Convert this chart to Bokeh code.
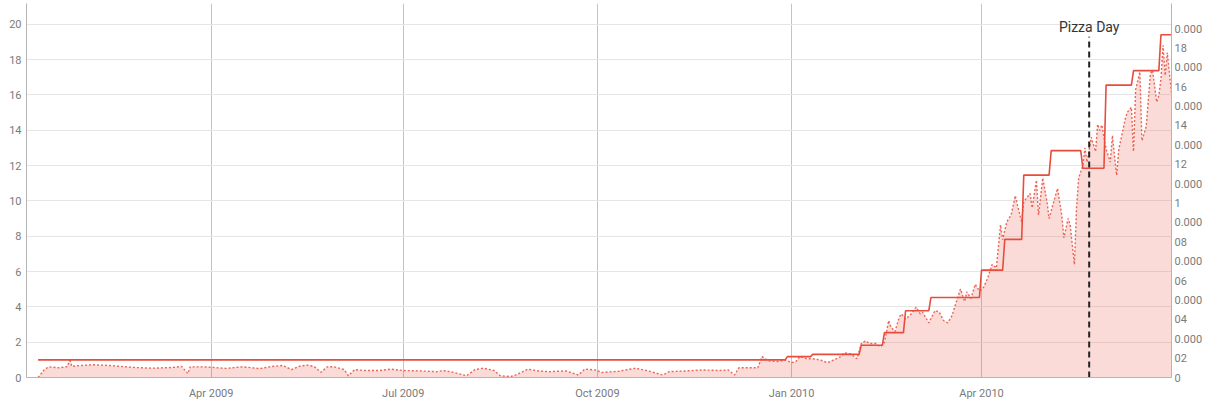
import pandas as pd
from bokeh.plotting import figure
from bokeh.models import Range1d, LinearAxis, FixedTicker, DatetimeTickFormatter, Label
from bokeh.embed import file_html
from bokeh.resources import INLINE

# ---- data ----
# difficulty (left axis): start date of each period and its value
diff_start = ["2009-01-09", "2009-12-30", "2010-01-11", "2010-02-03", "2010-02-14",
              "2010-02-24", "2010-03-08", "2010-04-01", "2010-04-12", "2010-04-21",
              "2010-05-04", "2010-05-19", "2010-05-30", "2010-06-12", "2010-06-25"]
diff_value = [1.0, 1.18, 1.31, 1.83, 2.54, 3.78, 4.53, 6.08, 7.82, 11.46,
              12.85, 11.85, 16.56, 17.38, 19.41]
diff_end = "2010-06-30"

# estimated hashrate (right axis, units of 1e-5)
hash_dates = [
    "2009-01-09", "2009-01-12", "2009-01-14", "2009-01-19", "2009-01-23", "2009-01-24",
    "2009-01-25", "2009-01-28", "2009-02-04", "2009-02-13", "2009-02-23", "2009-03-04",
    "2009-03-14", "2009-03-18", "2009-03-21", "2009-03-22", "2009-03-29", "2009-04-08",
    "2009-04-16", "2009-04-24", "2009-04-30", "2009-05-05", "2009-05-09", "2009-05-13",
    "2009-05-17", "2009-05-20", "2009-05-23", "2009-05-26", "2009-05-29", "2009-06-03",
    "2009-06-05", "2009-06-08", "2009-06-12", "2009-06-20", "2009-06-25", "2009-07-01",
    "2009-07-09", "2009-07-17", "2009-07-20", "2009-07-25", "2009-07-29", "2009-07-31",
    "2009-08-04", "2009-08-08", "2009-08-13", "2009-08-16", "2009-08-21", "2009-08-24",
    "2009-08-29", "2009-09-03", "2009-09-08", "2009-09-16", "2009-09-22", "2009-09-25",
    "2009-09-30", "2009-10-03", "2009-10-11", "2009-10-19", "2009-10-25", "2009-11-01",
    "2009-11-04", "2009-11-12", "2009-11-20", "2009-11-28", "2009-12-02", "2009-12-05",
    "2009-12-07", "2009-12-12", "2009-12-16", "2009-12-18", "2009-12-21", "2009-12-26",
    "2009-12-29", "2010-01-01", "2010-01-03", "2010-01-05", "2010-01-08", "2010-01-11",
    "2010-01-15", "2010-01-18", "2010-01-21", "2010-01-24", "2010-01-26", "2010-01-29",
    "2010-02-01", "2010-02-03", "2010-02-05", "2010-02-07", "2010-02-10", "2010-02-12",
    "2010-02-14", "2010-02-16", "2010-02-17", "2010-02-19", "2010-02-21", "2010-02-22",
    "2010-02-24", "2010-02-26", "2010-03-01", "2010-03-03", "2010-03-04", "2010-03-07",
    "2010-03-10", "2010-03-12", "2010-03-14", "2010-03-16", "2010-03-18", "2010-03-20",
    "2010-03-22", "2010-03-24", "2010-03-25", "2010-03-27", "2010-03-29", "2010-03-31",
    "2010-04-02", "2010-04-04", "2010-04-06", "2010-04-08", "2010-04-10", "2010-04-11",
    "2010-04-13", "2010-04-15", "2010-04-17", "2010-04-18", "2010-04-20", "2010-04-21",
    "2010-04-24", "2010-04-25", "2010-04-27", "2010-04-28", "2010-04-30", "2010-05-02",
    "2010-05-03", "2010-05-06", "2010-05-07", "2010-05-09", "2010-05-10", "2010-05-12",
    "2010-05-13", "2010-05-15", "2010-05-16", "2010-05-17", "2010-05-19", "2010-05-20",
    "2010-05-21", "2010-05-23", "2010-05-25", "2010-05-26", "2010-05-27", "2010-05-28",
    "2010-05-30", "2010-06-01", "2010-06-02", "2010-06-04", "2010-06-05", "2010-06-08",
    "2010-06-09", "2010-06-11", "2010-06-12", "2010-06-13", "2010-06-15", "2010-06-16",
    "2010-06-18", "2010-06-20", "2010-06-21", "2010-06-23", "2010-06-24", "2010-06-25",
    "2010-06-26", "2010-06-27", "2010-06-28", "2010-06-30"]
hash_value = [
    0.00, 0.41, 0.55, 0.50, 0.57, 0.98,
    0.57, 0.61, 0.66, 0.61, 0.52, 0.48,
    0.52, 0.57, 0.20, 0.55, 0.55, 0.47,
    0.55, 0.46, 0.57, 0.62, 0.41, 0.59,
    0.64, 0.55, 0.27, 0.55, 0.56, 0.41,
    0.09, 0.41, 0.36, 0.36, 0.43, 0.36,
    0.34, 0.30, 0.36, 0.26, 0.15, 0.09,
    0.41, 0.48, 0.36, 0.09, 0.05, 0.16,
    0.43, 0.34, 0.30, 0.34, 0.13, 0.43,
    0.39, 0.26, 0.32, 0.48, 0.34, 0.13,
    0.30, 0.34, 0.39, 0.36, 0.39, 0.13,
    0.50, 0.50, 0.50, 1.08, 0.86, 0.82,
    0.91, 0.77, 0.82, 1.09, 0.97, 0.97,
    0.89, 0.76, 0.91, 1.06, 1.28, 1.21,
    0.97, 1.75, 1.89, 1.75, 1.75, 1.58,
    1.82, 2.94, 2.61, 2.37, 3.11, 3.28,
    3.02, 3.19, 3.63, 3.28, 3.37, 2.82,
    3.46, 3.37, 2.94, 2.82, 3.19, 3.88,
    4.56, 3.92, 4.42, 4.08, 4.81, 4.46,
    4.65, 5.16, 5.83, 5.65, 7.87, 7.11,
    8.04, 8.38, 9.38, 8.90, 8.04, 9.07,
    9.49, 8.75, 10.18, 8.38, 10.29, 9.07,
    8.20, 9.38, 9.75, 8.38, 7.20, 8.20,
    7.87, 5.83, 8.75, 10.29, 10.93, 11.84,
    11.11, 12.39, 11.66, 13.06, 12.75, 13.03,
    11.79, 11.11, 12.48, 10.43, 11.75, 13.30,
    13.67, 13.94, 11.66, 14.85, 15.76, 12.21,
    12.94, 15.67, 15.85, 14.21, 14.55, 15.40,
    17.13, 15.58, 16.76, 14.67]

left_ticks = [0, 2, 4, 6, 8, 10, 12, 14, 16, 18, 20]
right_ticks = list(range(0, 19))
right_tick_labels = ["0", "02", "0.000", "04", "0.000", "06", "0.000", "08", "0.000",
                     "1", "0.000", "12", "0.000", "14", "0.000", "16", "0.000", "18", "0.000"]
x_tick_dates = ["2009-04-01", "2009-07-01", "2009-10-01", "2010-01-01", "2010-04-01"]

pizza_day = "2010-05-22"
pizza_label = "Pizza Day"
pizza_top = 19.3

RED = "#e74c3c"
FONT = "Roboto"

# ---- build ----
hx = pd.to_datetime(hash_dates)
ds = pd.to_datetime(diff_start)
dend = pd.to_datetime(diff_end)
line_x, line_y = [], []
for i, (s, v) in enumerate(zip(ds, diff_value)):
    e = ds[i + 1] - pd.Timedelta(days=1) if i + 1 < len(ds) else dend
    line_x += [s, e]
    line_y += [v, v]

p = figure(width=1224, height=402, x_axis_type="datetime",
           x_range=Range1d(pd.Timestamp("2009-01-03 12:00"), pd.Timestamp("2010-06-30")),
           y_range=Range1d(0, 21.18),
           output_backend="svg", toolbar_location=None,
           min_border_left=26, min_border_right=53, min_border_top=3, min_border_bottom=21)
p.extra_y_ranges = {"hash": Range1d(0, 19.29)}
p.outline_line_color = None
p.background_fill_color = "white"

# area (hashrate)
p.varea(x=hx, y1=0, y2=hash_value, y_range_name="hash", fill_color=RED, fill_alpha=0.2)
p.line(hx, hash_value, y_range_name="hash", line_color=RED, line_width=1.4,
       line_dash="2 2", line_alpha=0.85)

# difficulty step line
p.line(line_x, line_y, line_color=RED, line_width=1.6)

# pizza day marker
pd_x = pd.Timestamp(pizza_day)
p.segment(x0=[pd_x], y0=[0], x1=[pd_x], y1=[pizza_top], line_color="#222222",
          line_width=2, line_dash="6 4")
p.add_layout(Label(x=pd_x, y=pizza_top, text=pizza_label, text_align="center",
                   text_baseline="bottom", y_offset=2, text_font=FONT,
                   text_font_size="14px", text_color="#333333"))

# axes
xa = p.xaxis[0]
xa.ticker = FixedTicker(ticks=[pd.Timestamp(d).timestamp() * 1000 for d in x_tick_dates])
xa.formatter = DatetimeTickFormatter(days="%b %Y", months="%b %Y", years="%b %Y")
ya = p.yaxis[0]
ya.ticker = FixedTicker(ticks=left_ticks)

ra = LinearAxis(y_range_name="hash", ticker=FixedTicker(ticks=right_ticks),
                major_label_overrides={t: l for t, l in zip(right_ticks, right_tick_labels)})
p.add_layout(ra, "right")

for ax in (xa, ya, ra):
    ax.axis_line_color = "#b5b5b5"
    ax.axis_line_width = 1
    ax.major_tick_line_color = None
    ax.minor_tick_line_color = None
    ax.major_tick_out = 0
    ax.major_tick_in = 0
    ax.minor_tick_out = 0
    ax.minor_tick_in = 0
    ax.major_label_text_font = FONT
    ax.major_label_text_font_size = "11px"
    ax.major_label_text_color = "#7a7a7a"
xa.major_label_standoff = 9
ya.major_label_standoff = 5
ra.major_label_standoff = 3

p.xgrid.grid_line_color = "#c4c4c4"
p.xgrid.grid_line_width = 1
p.ygrid.grid_line_color = "#e6e6e6"
p.ygrid.grid_line_width = 1

open("out.html", "w").write(file_html(p, INLINE))
